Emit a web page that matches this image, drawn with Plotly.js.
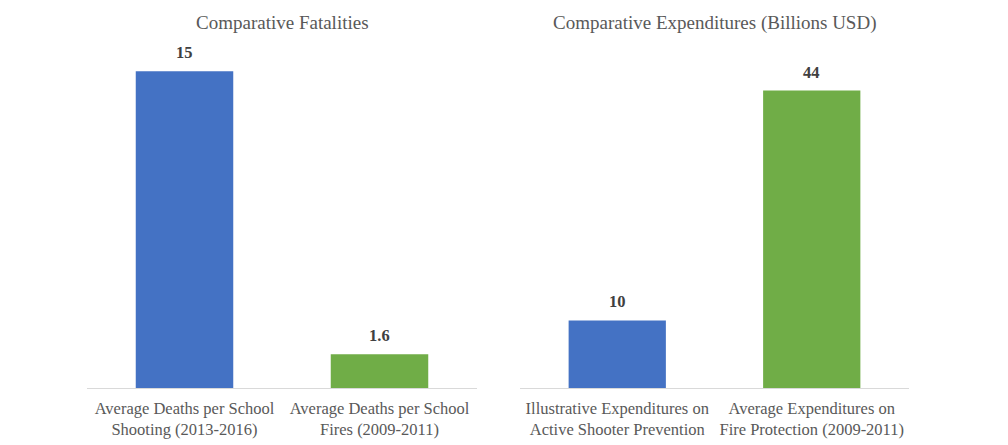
<!DOCTYPE html>
<html>
<head>
<meta charset="utf-8">
<script src="https://cdn.plot.ly/plotly-3.0.1.min.js"></script>
<style>html,body{margin:0;padding:0;background:#fff;}#chart{width:1008px;height:445px;}</style>
</head>
<body>
<div id="chart"></div>
<script>
const fatalityCategories = ["Average Deaths per School<br>Shooting (2013-2016)", "Average Deaths per School<br>Fires (2009-2011)"];
const fatalityValues = [15, 1.6];
const fatalityLabels = ["15", "1.6"];
const expenditureCategories = ["Illustrative Expenditures on<br>Active Shooter Prevention", "Average Expenditures on<br>Fire Protection (2009-2011)"];
const expenditureValues = [10, 44];
const expenditureLabels = ["10", "44"];
const barColors = ["#4472C4", "#70AD47"];
const titles = ["Comparative Fatalities", "Comparative Expenditures (Billions USD)"];

const serif = "Times New Roman, Liberation Serif, serif";

const traces = [
  {type: "bar", x: fatalityCategories, y: fatalityValues, xaxis: "x", yaxis: "y",
   marker: {color: barColors}, width: 0.5, hoverinfo: "skip"},
  {type: "bar", x: expenditureCategories, y: expenditureValues, xaxis: "x2", yaxis: "y2",
   marker: {color: barColors}, width: 0.5, hoverinfo: "skip"}
];

const annotations = [];
fatalityCategories.forEach((c, i) => annotations.push({
  x: c, y: fatalityValues[i], xref: "x", yref: "y", text: "<b>" + fatalityLabels[i] + "</b>",
  showarrow: false, yanchor: "bottom", yshift: 7, font: {family: serif, size: 16.5, color: "#404040"}
}));
expenditureCategories.forEach((c, i) => annotations.push({
  x: c, y: expenditureValues[i], xref: "x2", yref: "y2", text: "<b>" + expenditureLabels[i] + "</b>",
  showarrow: false, yanchor: "bottom", yshift: 7, font: {family: serif, size: 16.5, color: "#404040"}
}));
const domains = [[87/1008, 477/1008], [520/1008, 909/1008]];
titles.forEach((t, i) => annotations.push({
  x: (domains[i][0] + domains[i][1]) / 2, y: 1.08, xref: "paper", yref: "paper",
  text: t, showarrow: false, xanchor: "center", yanchor: "middle",
  font: {family: serif, size: 19, color: "#595959"}
}));

const xaxisBase = {
  showgrid: false, zeroline: false, showline: true, linecolor: "#D9D9D9", linewidth: 1,
  ticks: "", tickfont: {family: serif, size: 16.5, color: "#595959"}, fixedrange: true,
  ticklabelstandoff: 5
};
const yaxisBase = {showgrid: false, zeroline: false, showline: false, showticklabels: false, ticks: "", fixedrange: true};

const layout = {
  width: 1008, height: 445,
  margin: {l: 0, r: 0, t: 50, b: 57},
  paper_bgcolor: "#ffffff", plot_bgcolor: "#ffffff",
  font: {family: serif},
  showlegend: false,
  bargap: 0.5,
  xaxis: Object.assign({}, xaxisBase, {domain: domains[0], anchor: "y"}),
  xaxis2: Object.assign({}, xaxisBase, {domain: domains[1], anchor: "y2"}),
  yaxis: Object.assign({}, yaxisBase, {range: [0, 16], anchor: "x"}),
  yaxis2: Object.assign({}, yaxisBase, {range: [0, 50], anchor: "x2"}),
  annotations: annotations
};

Plotly.newPlot("chart", traces, layout, {displayModeBar: false, staticPlot: true});
</script>
</body>
</html>
